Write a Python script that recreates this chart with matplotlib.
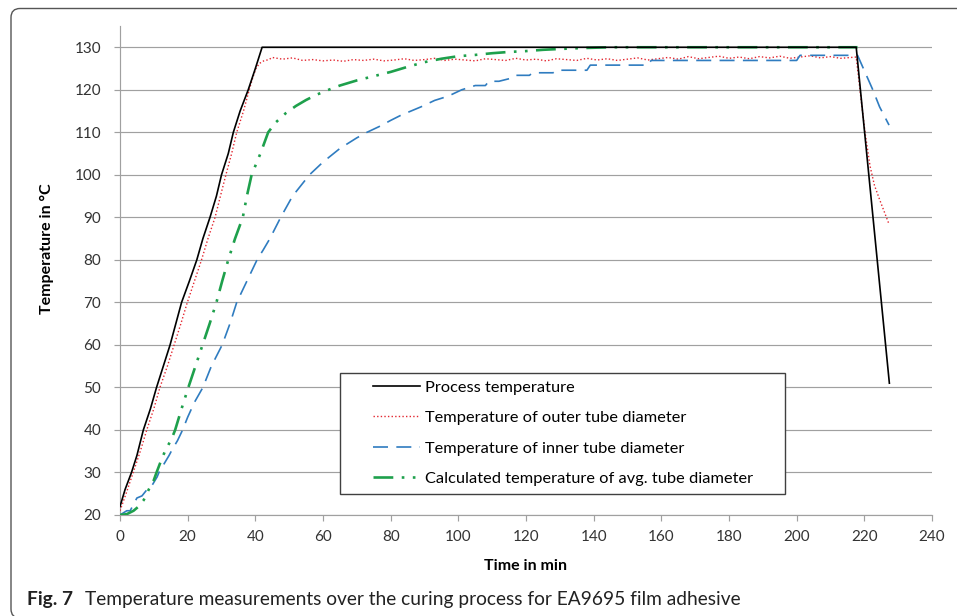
import matplotlib.pyplot as plt
from matplotlib.patches import FancyBboxPatch, Rectangle
from matplotlib.transforms import IdentityTransform

# readings taken off the figure (time in min, temperature in degC)
t_process = [0, 1.5, 3.4, 5, 6.9, 9, 10.8, 13, 14.8, 16.5, 18.2, 20.5, 22.7,
             24.5, 26.6, 28.5, 30, 32, 33.5, 35.5, 37.9, 40, 42, 217.6, 227.4]
T_process = [22, 26, 30, 34, 40, 45, 50, 55.5, 60, 65, 70, 75, 80,
             85, 90, 95, 100, 105, 110, 115, 120, 125, 130, 130, 51]

t_outer_rise = [0, 2, 3.9, 6, 7.9, 10, 11.8, 14, 16, 18, 19.9, 22, 24.1, 26,
                28.1, 30, 31.3, 33, 34.5, 36.5, 38.2, 39.3, 40.2, 41.2, 42.5, 44]
T_outer_rise = [21, 25.5, 30, 35, 40, 45, 50, 55, 60, 65, 70, 75, 80, 85,
                90, 96, 100, 105, 110, 115, 120, 123, 125, 126.2, 126.8, 127.1]
t_outer_hold = [45, 48, 51, 54, 57, 60, 63, 66, 69, 72,
                75, 78, 81, 84, 87, 90, 93, 96, 99, 102,
                105, 108, 111, 114, 117, 120, 123, 126, 129, 132,
                135, 138, 141, 144, 147, 150, 153, 156, 159, 162,
                165, 168, 171, 174, 177, 180, 183, 186, 189, 192,
                195, 198, 201, 204, 207, 210, 213, 216]
T_outer_hold = [127.6, 127.2, 127.5, 126.9, 127.1, 126.8, 127.0, 126.7, 127.1, 126.9,
                127.2, 126.8, 127.0, 127.3, 126.9, 127.1, 127.4, 126.9, 127.2, 127.0,
                126.8, 127.3, 127.1, 126.9, 127.4, 127.0, 127.2, 126.8, 127.3, 127.1,
                126.9, 127.4, 127.0, 127.3, 126.9, 127.2, 127.5, 127.0, 127.3, 127.6,
                127.2, 127.8, 127.3, 127.6, 127.9, 127.4, 127.7, 127.3, 127.8, 127.5,
                127.9, 127.4, 127.7, 128.0, 127.5, 127.8, 127.4, 127.6]
t_outer_cool = [217.6, 219, 220.2, 221.7, 223, 224.6, 227.2]
T_outer_cool = [127.7, 118, 110, 102, 97.5, 94, 88.6]

t_inner = [0, 1, 2, 3, 4, 5, 6.5, 8, 9.5, 11, 11.5, 13, 14.5, 15.5, 17, 18.5,
           20, 22, 24.5, 27, 30.2, 32.5, 34.5, 37.5, 40.5, 42.3, 44.3, 47.5,
           51, 56, 60, 65, 70, 73, 77, 80, 83, 86, 89, 93, 97, 101, 105,
           108, 109, 112, 116, 117, 121, 122, 128, 129, 138, 139, 156, 157,
           200, 201, 218, 220, 222.5, 224.5, 227.3]
T_inner = [20, 20.5, 21, 21, 22.5, 24, 24.5, 26, 27, 29, 30, 32, 34, 35.5, 37.5, 40,
           43, 46.5, 50, 55, 60, 65, 70, 75, 80, 82.3, 85, 90,
           95, 100, 103, 106.2, 108.7, 110, 111.5, 112.8, 114, 115, 116, 117.5, 118.5, 120, 121,
           121, 122, 122, 122.8, 123.4, 123.4, 124, 124, 124.6, 124.6, 125.8, 125.8, 126.9,
           126.9, 128.1, 128.1, 124.5, 120, 116, 111.7]

t_avg = [0, 2, 4, 5.5, 7, 8.5, 9.9, 10.8, 12, 13.3, 15.3, 16.3, 18.2, 20.2,
         22.3, 24.4, 26.5, 28.5, 30.2, 32, 34, 36.3, 37.5, 38.9, 41.5, 43.8,
         46, 49, 52, 55, 58, 61, 65, 70, 75, 80, 85, 90, 95, 100, 105, 110, 115,
         120, 125, 130, 136, 145, 218]
T_avg = [20, 20.2, 21, 22, 23.5, 26, 28, 30, 32.5, 35, 38, 40, 45, 50,
         55, 60, 65, 70, 75, 80, 85, 90, 95, 100, 105, 110,
         112.3, 114.5, 116.2, 117.6, 118.8, 119.8, 121, 122.2, 123.2, 124.2, 125.4, 126.5,
         127.3, 127.9, 128.2, 128.6, 128.9,
         129.1, 129.4, 129.6, 129.8, 130, 130]

labels = ['Process temperature',
          'Temperature of outer tube diameter',
          'Temperature of inner tube diameter',
          'Calculated temperature of avg. tube diameter']

plt.rcParams['font.family'] = ['Lato', 'DejaVu Sans']

fig = plt.figure(figsize=(9.57, 6.16), dpi=100)
ax = fig.add_axes([120 / 957, 1 - 515 / 616, 812 / 957, 489 / 616])

grid_c = '#a0a0a0'
ax.grid(axis='y', color=grid_c, lw=0.85, zorder=0)
ax.set_axisbelow(True)

l1, = ax.plot(t_process, T_process, color='black', lw=1.2, zorder=4)
l2, = ax.plot(t_outer_rise + t_outer_hold + t_outer_cool,
              T_outer_rise + T_outer_hold + T_outer_cool,
              color='#e3262f', lw=1.0, ls=(0, (1, 1.6)), zorder=3)
l3, = ax.plot(t_inner, T_inner, color='#2f7cc0', lw=1.2,
              ls=(0, (9, 5)), zorder=3)
l4, = ax.plot(t_avg, T_avg, color='#1ea04c', lw=1.9,
              ls=(0, (7.5, 3.2, 1, 3.2, 1, 3.2)), zorder=3)

ax.set_xlim(0, 240)
ax.set_ylim(20, 135)
ax.set_xticks(range(0, 241, 20))
ax.set_yticks(range(20, 131, 10))
for s in ['top', 'right']:
    ax.spines[s].set_visible(False)
for s in ['left', 'bottom']:
    ax.spines[s].set_color(grid_c)
    ax.spines[s].set_linewidth(0.85)
ax.tick_params(direction='out', length=4.5, width=0.85, color=grid_c,
               labelsize=11, labelcolor='#333333')
ax.tick_params(axis='y', pad=9)
ax.tick_params(axis='x', pad=6)

ax.set_xlabel('Time in min', fontsize=11.5, fontweight='bold')
ax.set_ylabel('Temperature in °C', fontsize=11.5, fontweight='bold')
ax.xaxis.set_label_coords(0.5, -0.090)
ax.yaxis.set_label_coords(-0.081, 0.545)

# legend box drawn by hand, legend itself frameless
box = Rectangle((0.271, 0.0429), 0.548, 0.2475, transform=ax.transAxes,
                facecolor='white', edgecolor='#404040', lw=1.0, zorder=5)
ax.add_patch(box)
leg = ax.legend([l1, l2, l3, l4], labels, loc='upper left',
                bbox_to_anchor=(0.3116, 0.276), frameon=False, fontsize=11.8,
                handlelength=2.85, handletextpad=0.33, labelspacing=0.98,
                borderpad=0, borderaxespad=0)
leg.set_zorder(6)

# figure frame with rounded left corners, bottom edge just off the canvas
frame = FancyBboxPatch((11, -2), 1100, 616 - 8.5 + 2,
                       boxstyle='round,pad=0,rounding_size=9',
                       transform=IdentityTransform(), fill=False,
                       ec='#555555', lw=1.0)
fig.add_artist(frame)

fig.text(27 / 957, 1 - 600 / 616, 'Fig. 7', fontsize=13.8, fontweight='bold',
         va='center', color='#222222')
fig.text(85 / 957, 1 - 600 / 616,
         'Temperature measurements over the curing process for EA9695 film adhesive',
         fontsize=13.8, va='center', color='#222222')

fig.savefig('out.png', dpi=100)
